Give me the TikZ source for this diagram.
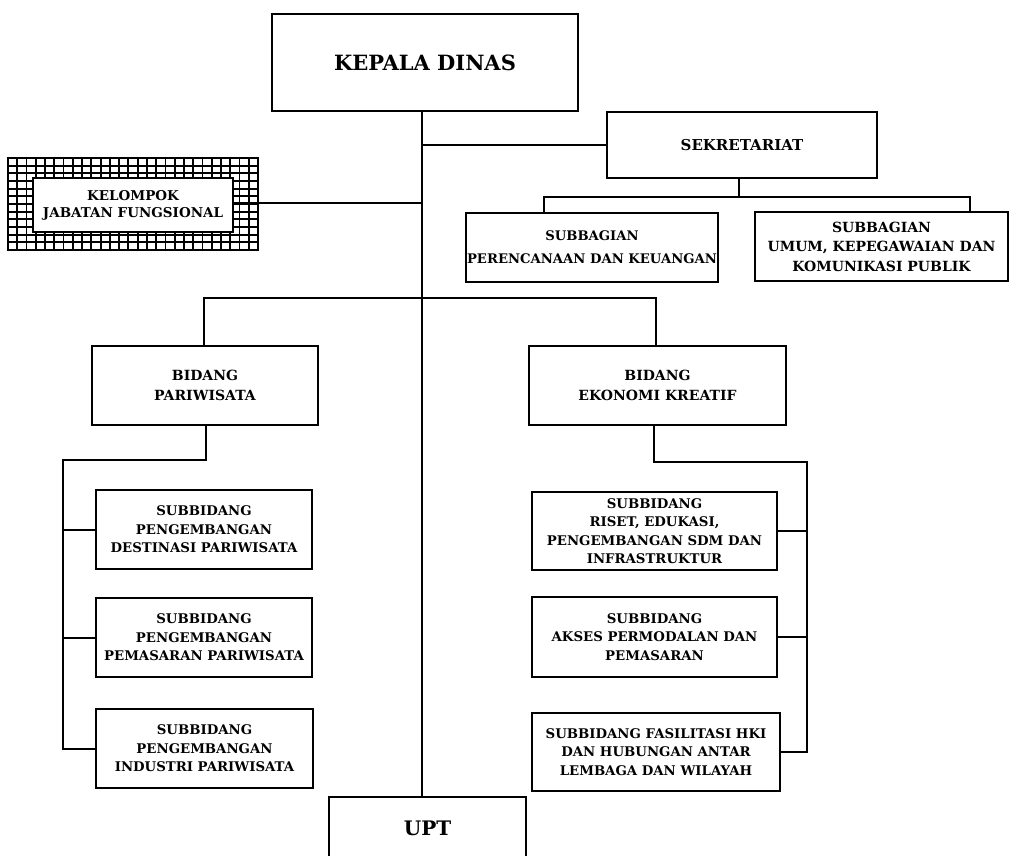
\documentclass[tikz,border=0pt]{standalone}
\usepackage{fontspec}
\setmainfont{DejaVu Serif}
\begin{document}
\begin{tikzpicture}[x=1pt,y=-1pt,
  box/.style={draw, line width=2pt, fill=white, inner sep=0pt, outer sep=0pt, align=center,
    font=\fontsize{14}{19.5}\selectfont\bfseries},
  sbox/.style={box, font=\fontsize{13.3}{18.5}\selectfont\bfseries},
  gridline/.style={line width=1.8pt},
  conn/.style={line width=2pt, line join=miter}]
\useasboundingbox (0,0) rectangle (1018,856);
\clip (0,0) rectangle (1018,856);
% axis
\coordinate (ax) at (422,0);
% main nodes
\node[box, minimum width=306pt, minimum height=97pt, font=\fontsize{21}{24}\selectfont\bfseries] (kd) at (425,62.5) {KEPALA DINAS};
\node[box, minimum width=270pt, minimum height=66pt, font=\fontsize{15}{19}\selectfont\bfseries] (sek) at (742,145) {SEKRETARIAT};
% kelompok with grid frame
\node[draw, line width=2pt, inner sep=0pt, outer sep=0pt, minimum width=250pt, minimum height=92pt] (kelo) at (133,204) {};
\foreach \i in {1,...,26} {\draw[gridline] (8+\i*9.26,158) -- (8+\i*9.26,250);}
\foreach \j in {1,...,11} {\draw[gridline] (8,158+\j*7.667) -- (258,158+\j*7.667);}
\node[draw, line width=2pt, inner sep=0pt, outer sep=0pt, minimum width=250pt, minimum height=92pt] at (133,204) {};
\node[box, minimum width=200pt, minimum height=54pt, font=\fontsize{13.5}{17}\selectfont\bfseries] (kel) at (133,205) {KELOMPOK\\JABATAN FUNGSIONAL};
\node[box, minimum width=252pt, minimum height=69pt, font=\fontsize{13.2}{23}\selectfont\bfseries] (per) at (592,247.5) {SUBBAGIAN\\PERENCANAAN DAN KEUANGAN};
\node[box, minimum width=253pt, minimum height=69pt] (umum) at (881.5,246.5) {SUBBAGIAN\\UMUM, KEPEGAWAIAN DAN\\KOMUNIKASI PUBLIK};
\node[box, minimum width=226pt, minimum height=79pt] (par) at (205,385.5) {BIDANG\\PARIWISATA};
\node[box, minimum width=257pt, minimum height=79pt] (eko) at (657.5,385.5) {BIDANG\\EKONOMI KREATIF};
\node[sbox, minimum width=216pt, minimum height=79pt] (sb1) at (204,529.5) {SUBBIDANG\\PENGEMBANGAN\\DESTINASI PARIWISATA};
\node[sbox, minimum width=216pt, minimum height=79pt] (sb2) at (204,637.5) {SUBBIDANG\\PENGEMBANGAN\\PEMASARAN PARIWISATA};
\node[sbox, minimum width=217pt, minimum height=79pt] (sb3) at (204.5,748.5) {SUBBIDANG\\PENGEMBANGAN\\INDUSTRI PARIWISATA};
\node[sbox, minimum width=245pt, minimum height=78pt] (se1) at (654.5,531) {SUBBIDANG\\RISET, EDUKASI,\\PENGEMBANGAN SDM DAN\\INFRASTRUKTUR};
\node[sbox, minimum width=245pt, minimum height=80pt] (se2) at (654.5,637) {SUBBIDANG\\AKSES PERMODALAN DAN\\PEMASARAN};
\node[sbox, minimum width=248pt, minimum height=78pt] (se3) at (656,752) {SUBBIDANG FASILITASI HKI\\DAN HUBUNGAN ANTAR\\LEMBAGA DAN WILAYAH};
\node[box, minimum width=197pt, minimum height=62pt, font=\fontsize{20}{24}\selectfont\bfseries] (upt) at (427.5,828) {UPT};
% junction coordinates
\coordinate (jsek) at (0,145);
\coordinate (jkel) at (0,203);
\coordinate (jsub) at (739,197);
\coordinate (jl) at (544,197);
\coordinate (jr) at (970,197);
\coordinate (jbl) at (204,298);
\coordinate (jbr) at (656,298);
\coordinate (jpar) at (206,0);
\coordinate (jparh) at (63,460);
\coordinate (jeko) at (654,0);
\coordinate (jekoh) at (807,462);
% connectors
\draw[conn] (kd.south -| ax) -- (upt.north -| ax);
\draw[conn] (jsek -| ax) -- (sek.west |- jsek);
\draw[conn] (kel.east |- jkel) -- (jkel -| ax);
\draw[conn] (sek.south -| jsub) -- (jsub);
\draw[conn] (per.north -| jl) -- (jl) -- (jr) -- (umum.north -| jr);
\draw[conn] (par.north -| jbl) -- (jbl) -- (jbr) -- (eko.north -| jbr);
\draw[conn] (par.south -| jpar) -- (jpar |- jparh) -- (jparh) -- (jparh |- sb3.west) -- (sb3.west);
\draw[conn] (jparh |- sb1.west) -- (sb1.west);
\draw[conn] (jparh |- sb2.west) -- (sb2.west);
\draw[conn] (eko.south -| jeko) -- (jeko |- jekoh) -- (jekoh) -- (jekoh |- se3.east) -- (se3.east);
\draw[conn] (jekoh |- se1.east) -- (se1.east);
\draw[conn] (jekoh |- se2.east) -- (se2.east);
\end{tikzpicture}
\end{document}
